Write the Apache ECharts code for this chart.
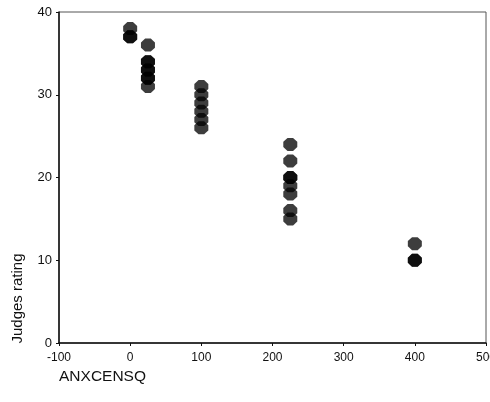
<!DOCTYPE html>
<html>
<head>
<meta charset="utf-8">
<style>
  html, body { margin: 0; padding: 0; background: #fff; }
  #chart { width: 490px; height: 402px; }
</style>
<script src="https://cdn.jsdelivr.net/npm/echarts@6/dist/echarts.min.js"></script>
</head>
<body>
<div id="chart"></div>
<script>
// ANXCENSQ values (repeated entries are overlapping cases)
const xValues = [0, 0, 0,
  25, 25, 25, 25, 25, 25, 25, 25,
  100, 100, 100, 100, 100, 100,
  225, 225, 225, 225, 225, 225, 225, 225,
  400, 400, 400]
// Judges rating
const yValues = [38, 37, 37,
  36, 34, 34, 33, 33, 32, 32, 31,
  31, 30, 29, 28, 27, 26,
  24, 22, 20, 20, 19, 18, 16, 15,
  12, 10, 10]

const xTicks = [-100, 0, 100, 200, 300, 400, 500]
const yTicks = [0, 10, 20, 30, 40]

const points = xValues.map((x, i) => [x, yValues[i]])

const chart = echarts.init(document.getElementById('chart'))

const octagon = 'path://M3,0 L7,0 L10,3 L10,7 L7,10 L3,10 L0,7 L0,3 Z'

chart.setOption({
  animation: false,
  textStyle: { fontFamily: 'Liberation Sans, Arial, sans-serif' },
  grid: {
    left: 59,
    right: 4,
    top: 12,
    bottom: 59,
    outerBoundsMode: 'none',
    containLabel: false,
    show: true,
    borderColor: '#555',
    borderWidth: 1
  },
  xAxis: {
    type: 'value',
    min: xTicks[0],
    max: xTicks[xTicks.length - 1],
    interval: 100,
    name: 'ANXCENSQ',
    nameLocation: 'middle',
    nameGap: 25,
    nameTextStyle: { fontSize: 15.5, color: '#111', padding: [0, 340, 0, 0] },
    splitLine: { show: false },
    axisLine: { onZero: false, lineStyle: { color: '#111', width: 1.5 } },
    axisTick: { show: true, length: 3, lineStyle: { color: '#111' } },
    axisLabel: { fontSize: 12, color: '#111', margin: 9 }
  },
  yAxis: {
    type: 'value',
    min: yTicks[0],
    max: yTicks[yTicks.length - 1],
    interval: 10,
    name: 'Judges rating',
    nameLocation: 'middle',
    nameGap: 34,
    nameTextStyle: { fontSize: 15, color: '#111', padding: [0, 242, 0, 0] },
    splitLine: { show: false },
    axisLine: { show: true, onZero: false, lineStyle: { color: '#111', width: 1.5 } },
    axisTick: { show: true, length: 3, lineStyle: { color: '#111' } },
    axisLabel: { fontSize: 13, color: '#111', margin: 7 }
  },
  series: [{
    type: 'scatter',
    data: points,
    symbol: octagon,
    symbolSize: [14, 13],
    itemStyle: { color: 'rgba(0, 0, 0, 0.76)', opacity: 1 }
  }]
})
</script>
</body>
</html>
